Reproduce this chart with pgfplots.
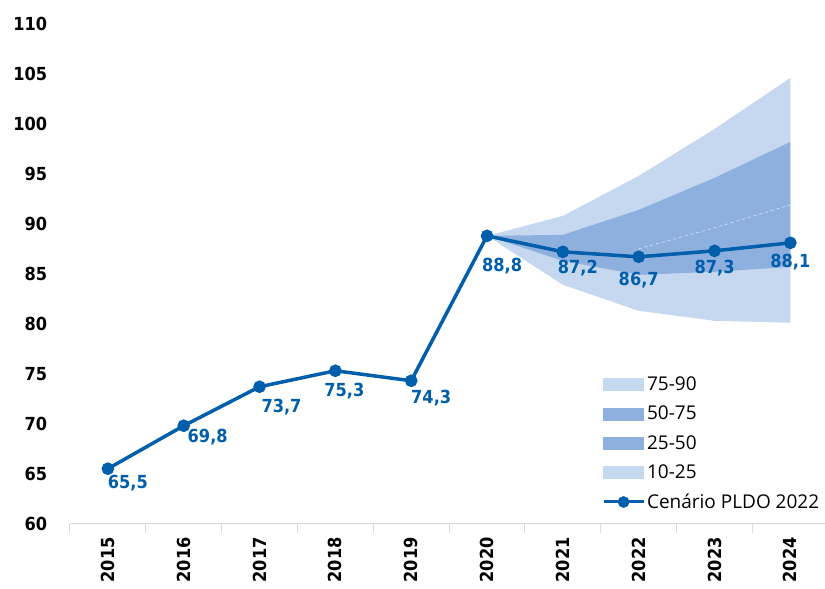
\documentclass[border=0pt]{standalone}
\usepackage{fontspec}
\setmainfont{Open Sans}
\newfontfamily\tickfont{DejaVu Sans}[FakeStretch=0.9]
\usepackage{pgfplots}
\usepackage{pgfplotstable}
\pgfplotsset{compat=1.18}
\usepgfplotslibrary{fillbetween}

\definecolor{lineblue}{RGB}{0,94,170}
\definecolor{fanlight}{RGB}{197,216,240}
\definecolor{fandark}{RGB}{142,176,222}
\definecolor{axisgray}{RGB}{217,217,217}

% divida (% PIB), cenario PLDO 2022; dx/dy = posicao do rotulo
\pgfplotstableread{
x y dx dy label
0 65.5 20 -14 65,5
1 69.8 24 -11 69,8
2 73.7 22 -20 73,7
3 75.3 9 -20 75,3
4 74.3 20 -17 74,3
5 88.8 15 -30 88,8
6 87.2 15 -16 87,2
7 86.7 0 -23 86,7
8 87.3 0 -17 87,3
9 88.1 0 -19 88,1
}\divida

% leque de percentis
\pgfplotstableread{
x p10 p25 p50 p75 p90
5 88.8 88.8 88.8 88.8 88.8
6 83.9 86.3 88.0 88.9 90.8
7 81.3 84.9 87.5 91.4 94.8
8 80.3 85.2 89.6 94.6 99.5
9 80.1 85.7 91.9 98.2 104.6
}\fan

\newcommand{\tickfnt}{\tickfont\bfseries\fontsize{18bp}{20bp}\selectfont}

\begin{document}
\begin{tikzpicture}
\begin{axis}[
    scale only axis,
    width=755bp, height=500bp,
    xmin=-0.5, xmax=9.45,
    ymin=60, ymax=110,
    axis x line*=bottom,
    axis y line*=left,
    y axis line style={draw=none},
    x axis line style={axisgray, line width=1bp},
    xtick={0,...,9},
    xticklabels={2015,2016,2017,2018,2019,2020,2021,2022,2023,2024},
    minor xtick={-0.5,0.5,...,8.5},
    ytick={60,65,...,110},
    major tick style={draw=none},
    minor tick style={axisgray, line width=1bp},
    tick align=outside,
    minor tick length=9bp,
    /pgf/number format/assume math mode=true,
    yticklabel style={font=\tickfnt, xshift=-15bp},
    xticklabel style={font=\tickfnt, rotate=90, anchor=east},
    xticklabel shift=6bp,
    legend style={at={(0.705,0.298)}, anchor=north west, draw=none, fill=none,
        font=\fontsize{19bp}{21bp}\selectfont, row sep=10bp,
        inner sep=0pt, nodes={inner sep=2bp}},
    legend cell align=left,
]
\addplot[name path=p10, draw=none, forget plot] table[x=x, y=p10] {\fan};
\addplot[name path=p25, draw=none, forget plot] table[x=x, y=p25] {\fan};
\addplot[name path=p75, draw=none, forget plot] table[x=x, y=p75] {\fan};
\addplot[name path=p90, draw=none, forget plot] table[x=x, y=p90] {\fan};
\addplot[fill=fanlight, draw=none, forget plot] fill between[of=p10 and p90];
\addplot[fill=fandark, draw=none, forget plot] fill between[of=p25 and p75];
\addplot[white, dashed, line width=0.6bp, opacity=0.7, forget plot,
    restrict x to domain=7:9] table[x=x, y=p50] {\fan};

\addlegendimage{legend image code/.code={\fill[fanlight] (0bp,-6bp) rectangle (40bp,6bp);}}
\addlegendimage{legend image code/.code={\fill[fandark] (0bp,-6bp) rectangle (40bp,6bp);}}
\addlegendimage{legend image code/.code={\fill[fandark] (0bp,-6bp) rectangle (40bp,6bp);}}
\addlegendimage{legend image code/.code={\fill[fanlight] (0bp,-6bp) rectangle (40bp,6bp);}}

\addplot[lineblue, line width=3.5bp, mark=*, mark size=4.5bp,
    legend image code/.code={
        \draw[lineblue, line width=3bp] (0bp,0bp) -- (40bp,0bp);
        \fill[lineblue] (20bp,0bp) circle (4bp);},
    point meta=explicit symbolic,
    nodes near coords=\pgfplotspointmeta,
    visualization depends on={\thisrow{dx} \as \dx},
    visualization depends on={\thisrow{dy} \as \dy},
    nodes near coords style={anchor=center, xshift=\dx bp, yshift=\dy bp,
        font=\tickfnt, text=lineblue},
] table[x=x, y=y, meta=label] {\divida};

\legend{75-90,50-75,25-50,10-25,Cenário PLDO 2022}
\end{axis}
\path ([xshift=-70bp,yshift=-65bp]current axis.south west)
    rectangle ([yshift=24bp]current axis.north east);
\end{tikzpicture}
\end{document}
